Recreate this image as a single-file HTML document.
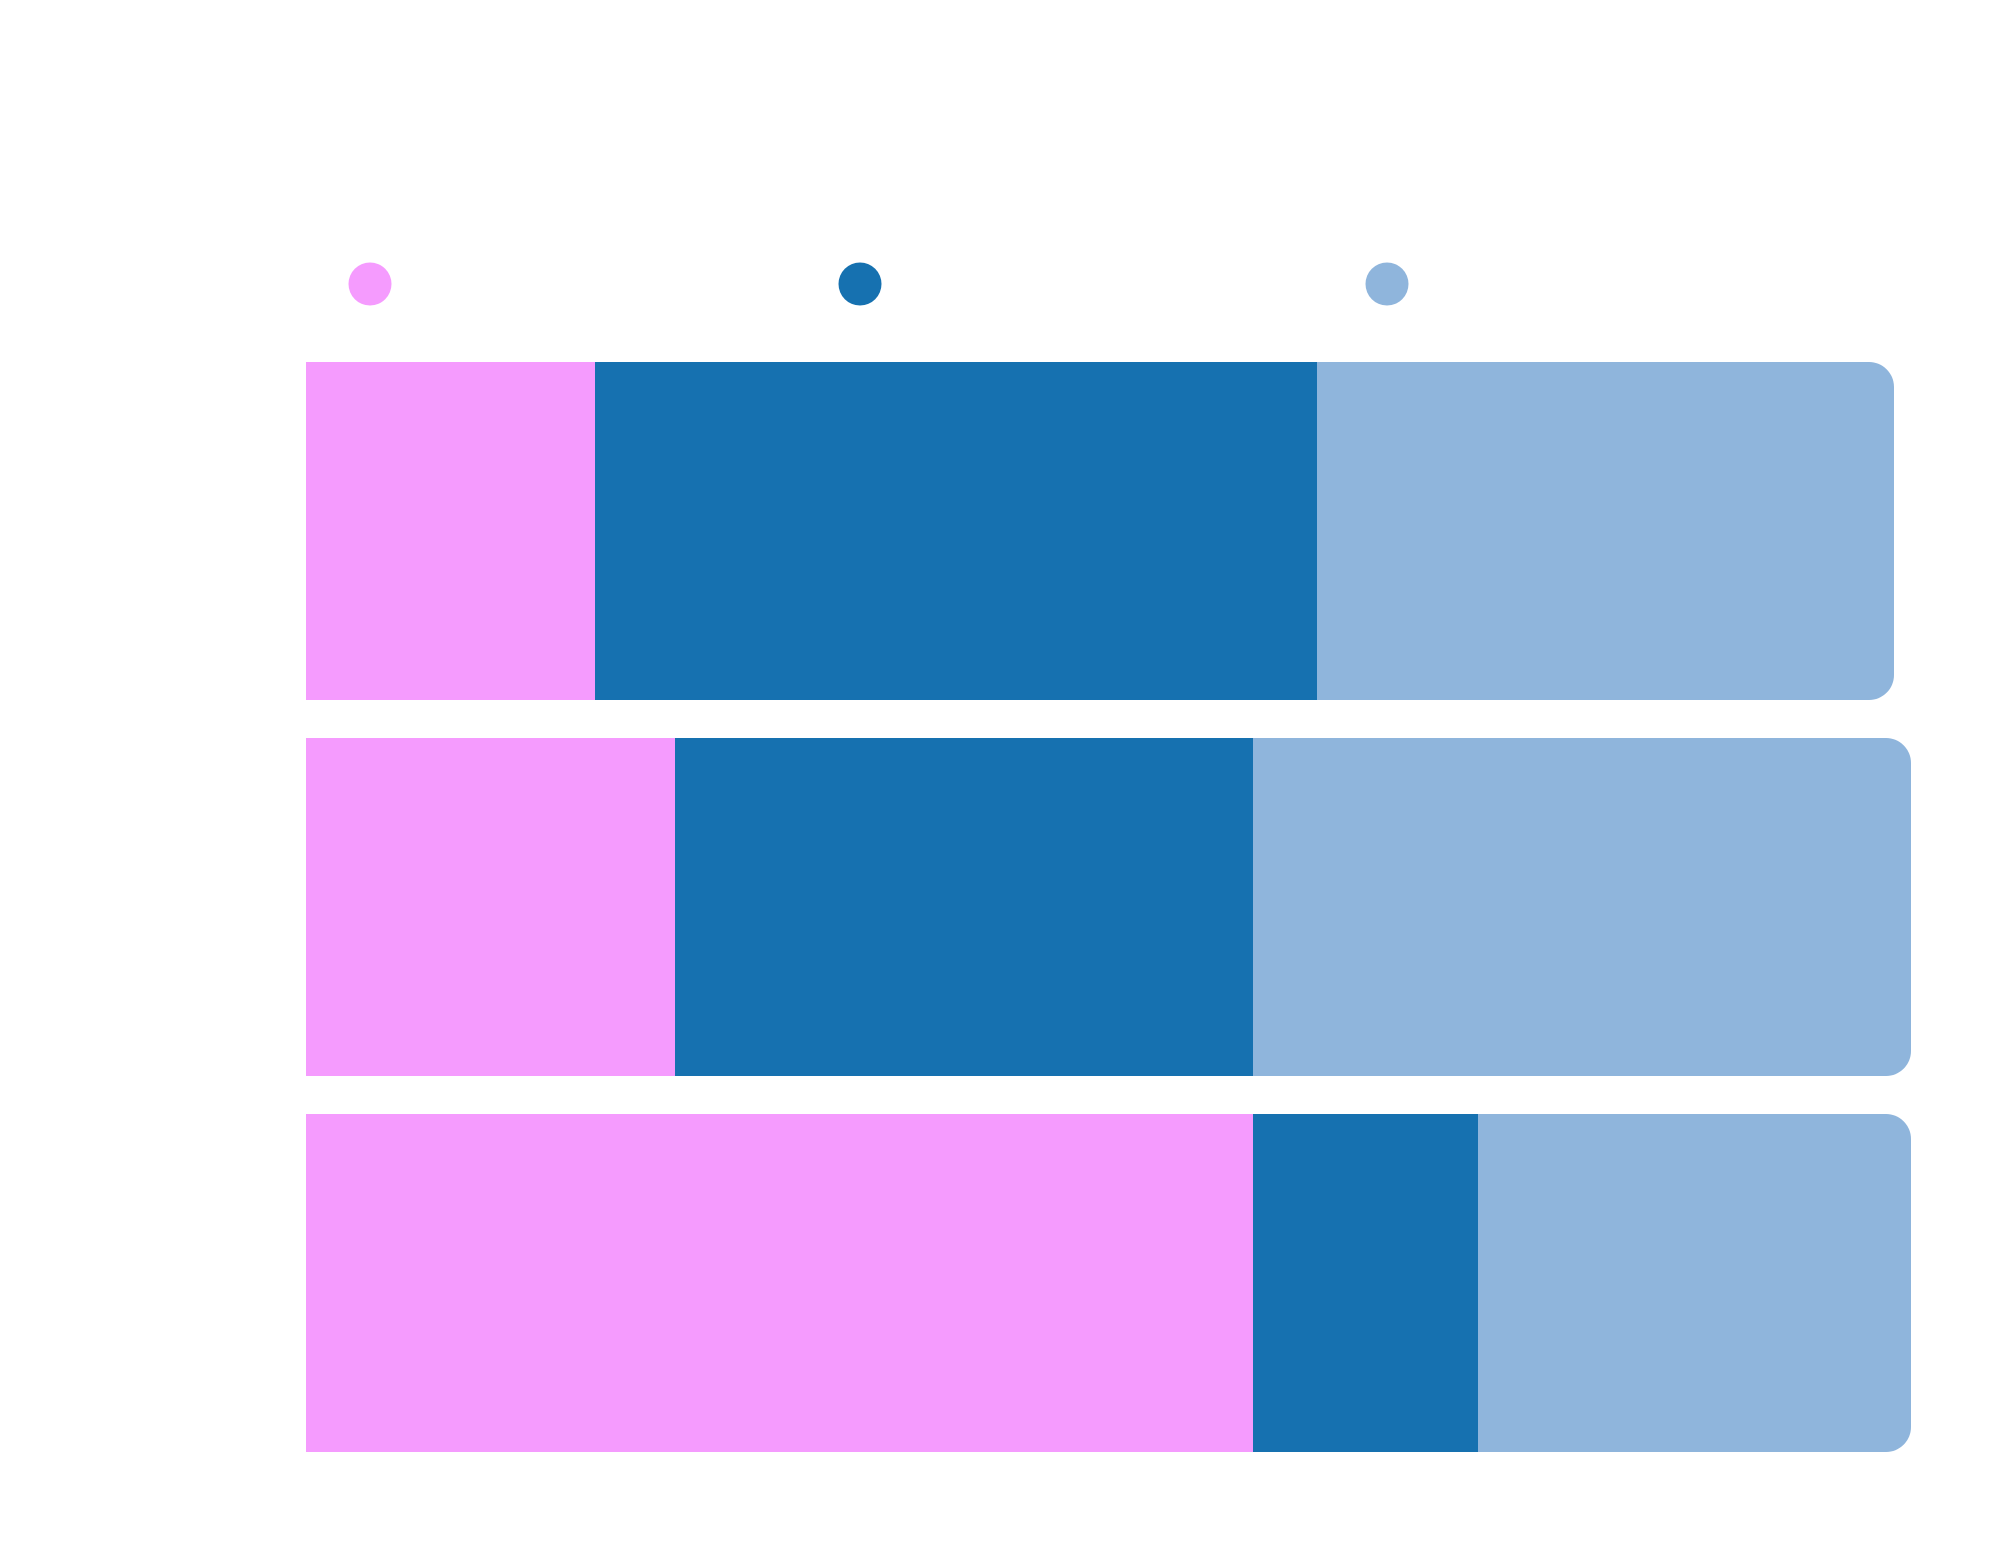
<!DOCTYPE html>
<html><head><style>
body{margin:0;width:2000px;height:1545px;background:#fff;overflow:hidden}
</style></head><body>
<svg width="2000" height="1545" xmlns="http://www.w3.org/2000/svg">
<circle cx="370" cy="284" r="21.5" fill="#f59bfe"/>
<circle cx="860" cy="284" r="21.5" fill="#1671b0"/>
<circle cx="1387" cy="284" r="21.5" fill="#8fb5dc"/>
<!-- bar1 -->
<rect x="306" y="362" width="289" height="338" fill="#f59bfe"/>
<rect x="595" y="362" width="722" height="338" fill="#1671b0"/>
<path d="M1317 362 H1869 A25 25 0 0 1 1894 387 V675 A25 25 0 0 1 1869 700 H1317 Z" fill="#8fb5dc"/>
<!-- bar2 -->
<rect x="306" y="738" width="369" height="338" fill="#f59bfe"/>
<rect x="675" y="738" width="578" height="338" fill="#1671b0"/>
<path d="M1253 738 H1886 A25 25 0 0 1 1911 763 V1051 A25 25 0 0 1 1886 1076 H1253 Z" fill="#8fb5dc"/>
<!-- bar3 -->
<rect x="306" y="1114" width="947" height="338" fill="#f59bfe"/>
<rect x="1253" y="1114" width="225" height="338" fill="#1671b0"/>
<path d="M1478 1114 H1886 A25 25 0 0 1 1911 1139 V1427 A25 25 0 0 1 1886 1452 H1478 Z" fill="#8fb5dc"/>
</svg>
</body></html>
